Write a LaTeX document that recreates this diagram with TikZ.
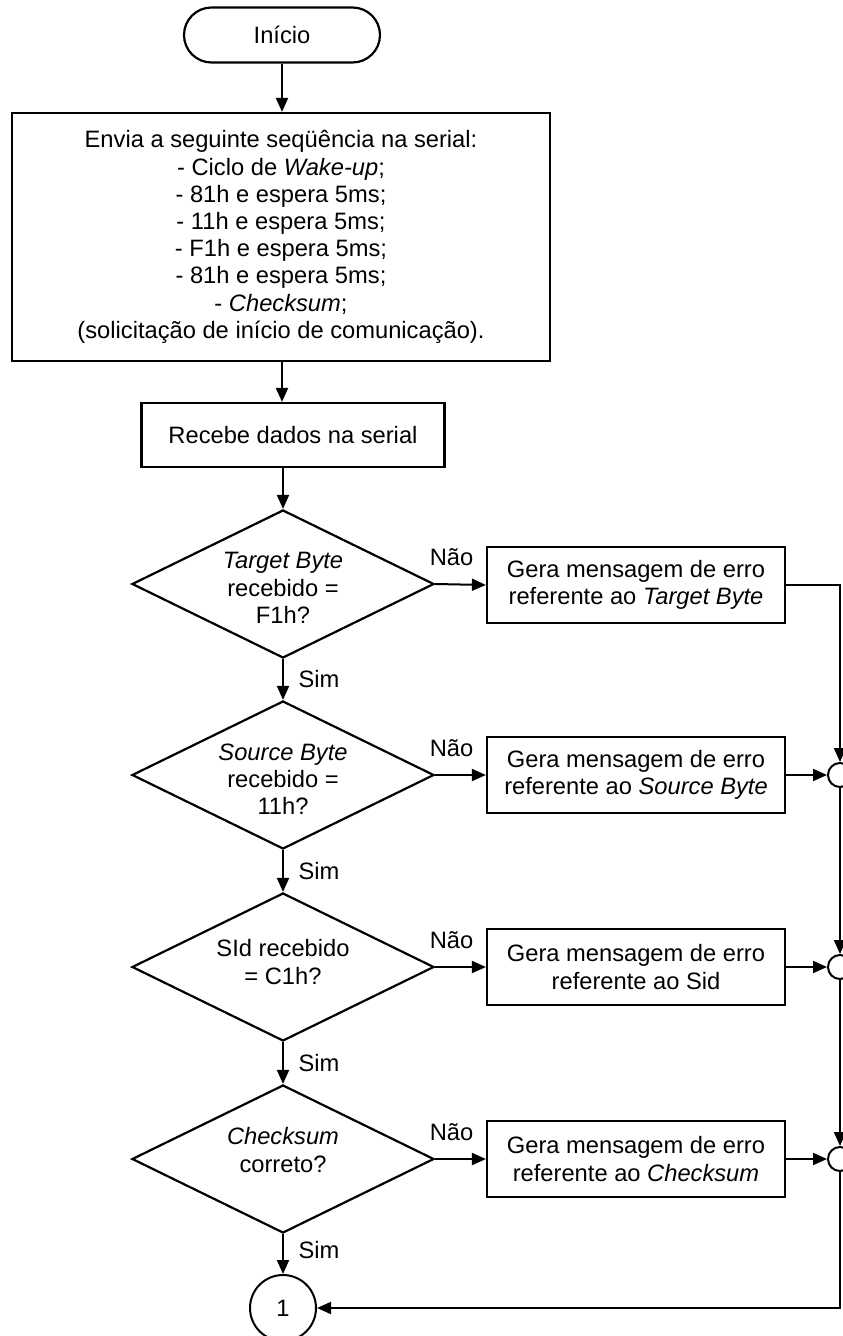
\documentclass[tikz,border=0pt]{standalone}
\usepackage{fontspec}
\setmainfont{Liberation Sans}
\usetikzlibrary{arrows.meta,shapes.geometric,calc}
\begin{document}
\begin{tikzpicture}[x=0.5pt,y=-0.5pt,
  every node/.style={font=\fontsize{11.85pt}{13.6pt}\selectfont, align=center},
  arr/.style={line width=1pt,-{Triangle[length=7pt,width=6pt]}},
  boxnode/.style={draw, line width=1.1pt, rectangle, inner sep=0pt},
  decnode/.style={draw, line width=1.1pt, diamond, minimum width=151pt, minimum height=74pt, inner sep=0pt},
  conn/.style={draw, circle, line width=1pt, inner sep=0pt, minimum size=12pt},
  errbox/.style={boxnode, minimum width=149pt, minimum height=38pt},
  lbl/.style={inner sep=0pt},
]
\useasboundingbox (0,0) rectangle (842,1336);

% main column
\node[boxnode, rounded corners=13.75pt, minimum width=98pt, minimum height=27.5pt] (start) at (282,35) {Início};
\node[boxnode, minimum width=269pt, minimum height=124pt] (send) at (281,237)
  {Envia a seguinte seqüência na serial:\\
   - Ciclo de \textit{Wake-up};\\
   - 81h e espera 5ms;\\
   - 11h e espera 5ms;\\
   - F1h e espera 5ms;\\
   - 81h e espera 5ms;\\
   - \textit{Checksum};\\
   (solicitação de início de comunicação).};
\node[boxnode, minimum width=151.5pt, minimum height=32pt] (recv) at (293,435) {Recebe dados na serial};

% decisions
\node[decnode] (d1) at (283,584) {};
\node[lbl] (t1) at (283,588) {\textit{Target Byte}\\recebido =\\F1h?};
\node[decnode] (d2) at (283,775) {};
\node[lbl] (t2) at (283,779) {\textit{Source Byte}\\recebido =\\11h?};
\node[decnode] (d3) at (283,967) {};
\node[lbl] (t3) at (283,962) {SId recebido\\= C1h?};
\node[decnode] (d4) at (283,1159) {};
\node[lbl] (t4) at (283,1150) {\textit{Checksum}\\correto?};

% error boxes
\node[errbox] (b1) at (636,585) {Gera mensagem de erro\\referente ao \textit{Target Byte}};
\node[errbox] (b2) at (636,775) {Gera mensagem de erro\\referente ao \textit{Source Byte}};
\node[errbox] (b3) at (636,967) {Gera mensagem de erro\\referente ao Sid};
\node[errbox] (b4) at (636,1159) {Gera mensagem de erro\\referente ao \textit{Checksum}};

% merge connectors
\node[conn] (m2) at (840,775) {};
\node[conn] (m3) at (840,967) {};
\node[conn] (m4) at (840,1159) {};

% off-page connector
\node[draw, circle, line width=1pt, inner sep=0pt, minimum size=33pt] (c1) at (283,1308) {1};

% flow arrows
\draw[arr] (start.south) -- (start.south |- send.north);
\draw[arr] (start.south |- send.south) -- (start.south |- recv.north);
\draw[arr] (d1.north |- recv.south) -- (d1.north);
\draw[arr] (d1.south) -- node[right=4pt]{Sim} (d2.north);
\draw[arr] (d2.south) -- node[right=4pt]{Sim} (d3.north);
\draw[arr] (d3.south) -- node[right=4pt]{Sim} (d4.north);
\draw[arr] (d4.south) -- node[right=4pt, yshift=2pt]{Sim} (c1.north);

\draw[arr] (d1.east) -- (b1.west);
\draw[arr] (d2.east) -- (b2.west);
\draw[arr] (d3.east) -- (b3.west);
\draw[arr] (d4.east) -- (b4.west);
\node[lbl] (n1) at ($(d1.east)!0.5!(b1.west)+(-9,-27)$) {Não};
\node[lbl] (n2) at ($(d2.east)!0.5!(b2.west)+(-9,-27)$) {Não};
\node[lbl] (n3) at ($(d3.east)!0.5!(b3.west)+(-9,-27)$) {Não};
\node[lbl] (n4) at ($(d4.east)!0.5!(b4.west)+(-9,-27)$) {Não};

\draw[arr] (b1.east) -- (b1.east -| m2.north) -- (m2.north);
\draw[arr] (b2.east) -- (m2.west);
\draw[arr] (m2.south) -- (m3.north);
\draw[arr] (b3.east) -- (m3.west);
\draw[arr] (m3.south) -- (m4.north);
\draw[arr] (b4.east) -- (m4.west);
\draw[arr] (m4.south) -- (m4.south |- c1.east) -- (c1.east);
\end{tikzpicture}
\end{document}
